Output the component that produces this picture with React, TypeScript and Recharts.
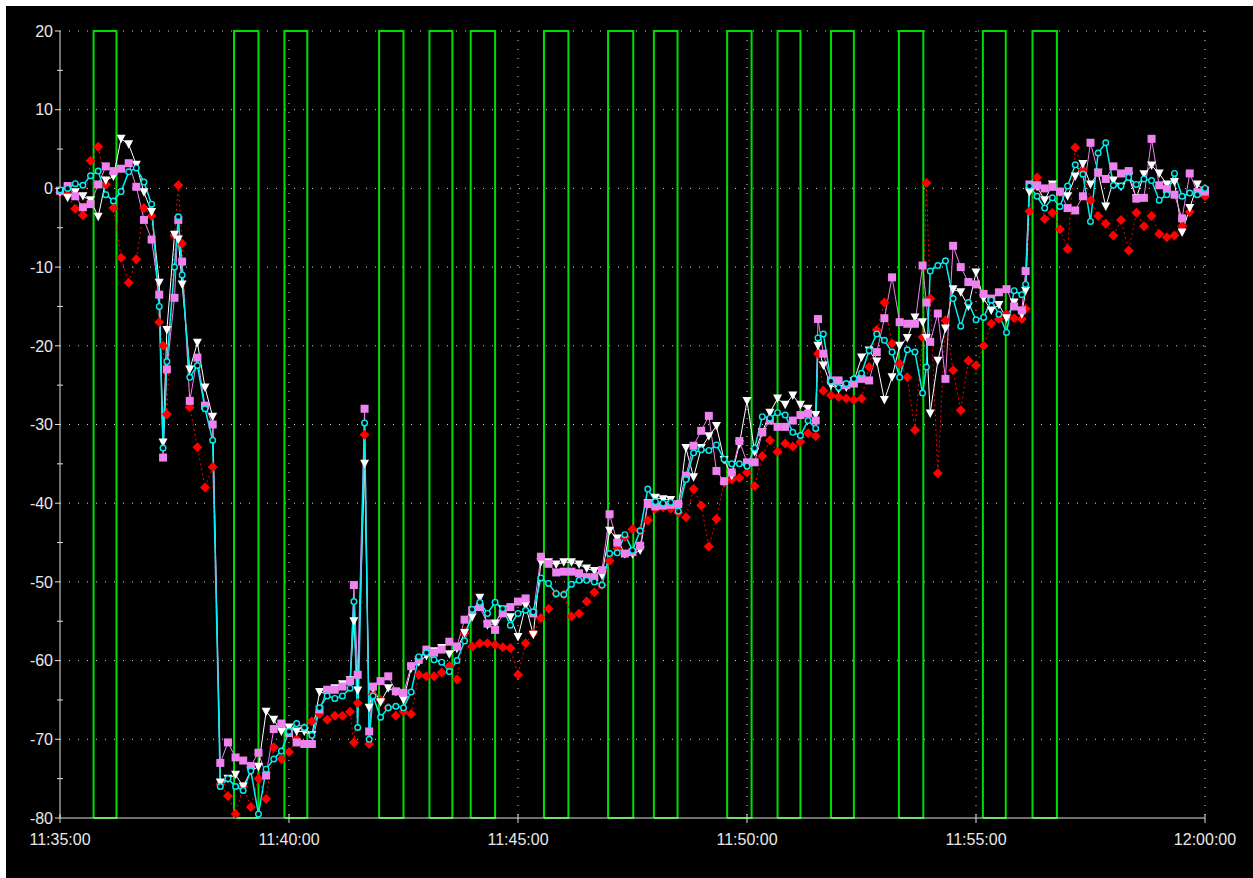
import React from 'react';
import { LineChart, Line, XAxis, YAxis, CartesianGrid } from 'recharts';

// seconds after 11:35:00
const TIMES = [
  0, 10, 20, 30, 40, 50, 60, 70, 80, 90,
  100, 110, 120, 130, 135, 140, 150, 155, 160, 170,
  180, 190, 200, 210, 220, 230, 240, 250, 260, 270,
  280, 290, 300, 310, 320, 330, 340, 350, 360, 370,
  380, 385, 390, 399, 405, 410, 420, 430, 440, 450,
  460, 470, 480, 490, 500, 510, 520, 530, 540, 550,
  560, 570, 580, 590, 600, 610, 620, 630, 640, 650,
  660, 670, 680, 690, 700, 710, 720, 730, 740, 750,
  760, 770, 780, 790, 800, 810, 820, 830, 840, 850,
  860, 870, 880, 890, 900, 910, 920, 930, 940, 950,
  960, 970, 980, 990, 993, 1000, 1010, 1020, 1030, 1040,
  1050, 1060, 1070, 1080, 1090, 1100, 1110, 1120, 1130, 1135,
  1140, 1150, 1160, 1170, 1180, 1190, 1200, 1210, 1220, 1230,
  1240, 1250, 1260, 1265, 1270, 1280, 1290, 1300, 1310, 1320,
  1330, 1340, 1350, 1360, 1370, 1380, 1390, 1400, 1410, 1420,
  1430, 1440, 1450, 1460, 1470, 1480, 1490, 1500,
];

const RED = [
  -0.5, -0.8, -2.6, -3.4, 3.5, 5.3, 0.5, -2.5, -8.8, -12,
  -9, -2.5, -3.5, -17, -20, -28.7, -6, 0.4, -7, -27.8,
  -32.9, -38, -35.4, -75.7, -77.2, -79.5, -76, -78.6, -75, -77.6,
  -71, -72.5, -71.6, -70, -68.5, -67.7, -66.8, -67.5, -67, -67,
  -66.5, -70.4, -65.4, -31.3, -70.6, -64.3, -65, -66, -67, -66.5,
  -66.8, -61.8, -62, -62, -61.5, -60.7, -62.4, -56.5, -58.2, -57.8,
  -57.8, -58, -58.3, -58.4, -61.8, -57.8, -56.5, -54.6, -53.4, -51.5,
  -51.6, -54.4, -54, -52.5, -51.3, -50.4, -47.3, -45.8, -44.3, -43.3,
  -43.5, -42.2, -40.7, -40.5, -40.7, -41.2, -41.8, -38.2, -40.3, -45.5,
  -42, -37.4, -37, -36.8, -36.1, -37.8, -34, -32, -33.5, -32.4,
  -32.8, -32.2, -31.1, -31.5, -21, -25.7, -26.3, -26.5, -26.7, -26.9,
  -26.7, -22.7, -18, -14.5, -19.7, -22.3, -24, -30.7, -18.9, 0.7,
  -14, -36.2, -16.8, -23.1, -28.2, -21.9, -22.5, -20, -17.2, -16.6,
  -16, -16.5, -16.6, -15.3, -2.9, 1.4, -3.9, -3.1, -5.2, -7.7,
  5.2, 2.3, -1.5, -3.5, -4.5, -6, -4, -7.9, -3.1, -4.8,
  -3.5, -5.8, -6.2, -6, -4.8, -3, -0.6, -1,
];

const VIOLET = [
  -0.3, 0.3, -1, -2.4, -2, 0.5, 2.8, 2.2, 2.5, 3.2,
  0.2, -4, -6.5, -13.5, -34.2, -23, -13.9, -4, -9.3, -27,
  -21.5, -27.6, -30, -73, -70.4, -72.3, -72.7, -73.4, -71.7, -74.6,
  -68.7, -68, -69.2, -70.4, -70.6, -70.6, -66.2, -63.7, -63.7, -63.3,
  -62.6, -50.4, -61.8, -28, -69, -63.3, -62.6, -62, -63.9, -64.1,
  -60.7, -59.9, -58.6, -59, -58.6, -57.6, -58.2, -54.8, -53.6, -53.2,
  -55.3, -56.1, -54, -53.2, -52.5, -52.1, -54, -46.8, -47.7, -48.8,
  -48.7, -48.7, -48.9, -49.4, -49.4, -48.5, -41.4, -45, -46.4, -46.2,
  -45.4, -40.1, -40.4, -40.3, -40.2, -40.1, -36.5, -32.7, -30.8, -28.9,
  -35.9, -37.2, -36.1, -32.1, -34.8, -34.8, -31, -29.5, -30.3, -30.3,
  -29.5, -28.8, -28.6, -29.5, -16.6, -21, -24.4, -24.4, -25, -24.8,
  -24.2, -24.4, -20.8, -16.5, -11.3, -17, -17.2, -17.2, -9.8, -14.5,
  -19.5, -15.9, -24.2, -7.3, -10, -11.9, -12.2, -13.4, -14, -13.2,
  -12.8, -15, -15.5, -10.5, 0.5, 0.4, 0, 0.2, -0.4, -2.5,
  -2.8, -1, 5.8, 2, 1.2, 2.8, 1.9, 2.2, -1.3, -1.2,
  6.3, 0.4, -0.1, -0.8, -3.8, 1.9, -0.5, -0.4,
];

const WHITE = [
  -0.5, -1.2, -0.5, -1, -1.5, -3.6, 1, 1.5, 6.3, 5.6,
  3, -0.5, -3, -12, -32.3, -18, -5.9, -6.5, -12.2, -23,
  -19.6, -25.3, -29, -75.5, -75, -74.5, -76, -74, -73.5, -66.5,
  -67.5, -69, -68.5, -69, -69, -69.5, -64, -64.2, -63.5, -63,
  -62.5, -55, -63.8, -35, -66, -63.5, -65.3, -63.5, -64, -65,
  -61, -60.2, -59.4, -58.8, -58.4, -59.2, -58.5, -56.5, -54.5, -52,
  -55.5, -55.3, -53.5, -54.5, -57, -53, -56.7, -47.5, -47.5, -47.8,
  -47.5, -47.5, -47.8, -48.3, -48.6, -49.2, -43.5, -44.5, -46.5, -46.5,
  -46, -40, -39.3, -39.5, -39.6, -40.5, -33, -36.7, -33, -31.5,
  -30.2, -34.5, -36.5, -32.5, -27, -33.5, -31, -28.5, -26.7, -27.5,
  -26.3, -27.5, -28, -28.8, -20, -22.5, -25, -25.5, -25.3, -24.5,
  -21.5, -20.6, -22, -26.9, -24, -20, -19, -16.4, -17, -19,
  -28.6, -21.9, -17.8, -12.8, -13.2, -15, -10.7, -14, -15.5, -14.8,
  -16.5, -14.5, -16, -13, -0.5, 0.2, -1.5, 0.5, -0.5, -1,
  1.5, 3.1, 0.5, 2, -2.3, 1, 0.2, 1.5, -1.25, 1.8,
  2.9, 1.9, 0.5, 0.8, -5.6, -2.5, 0.5, -0.3,
];

const CYAN = [
  -0.2, 0, 0.6, 0.4, 1.6, 2.2, -0.8, -1.6, -0.4, 2.1,
  2.6, 0.8, -2, -15, -33, -22, -10, -3.6, -11, -24,
  -22.5, -28, -32, -76, -75, -76, -76.5, -74, -79.5, -73.8,
  -72.5, -71.5, -69, -68, -68.5, -69.5, -66, -64.5, -64.8, -64.5,
  -63.5, -52.5, -68.5, -29.8, -70, -64.5, -67.2, -66, -65.8, -66,
  -64, -59.5, -59, -59.9, -60.2, -61.4, -60, -57.5, -53.5, -52.6,
  -54, -52.6, -53.4, -55.5, -54, -53.6, -53.8, -49.5, -50.2, -51.5,
  -51.6, -50.3, -49.8, -49.8, -50, -50.4, -46.4, -46.3, -44, -46,
  -43.5, -38.2, -39.8, -40, -39.9, -41, -37, -33.6, -33.2, -33.3,
  -32.6, -34.4, -35, -35, -35.3, -33, -29, -29.2, -28.5, -28.8,
  -31, -31.4, -29.5, -30.5, -19, -18.5, -24.5, -25.3, -24.8, -24.2,
  -23.5, -20.6, -18.5, -19.3, -20.8, -24, -20.5, -20.8, -26, -22.7,
  -10.5, -9.8, -9.2, -14, -17.5, -14.5, -16.7, -16.4, -14.2, -16,
  -18.3, -13, -13.5, -12.2, 0.3, -1, -2.5, -1.2, -2.3, 0.3,
  3, 1.8, -4.2, 4.5, 5.8, 0.4, 0.3, 1.4, 0.5, 1.2,
  1, -1.5, -0.8, 1.9, -1, -0.6, -0.8, 0,
];

// green gate signal: on-intervals (seconds)
const PULSE_START = [44, 228, 294, 418, 484, 538, 634, 718, 778, 874, 940, 1010, 1099, 1209, 1274];
const PULSE_END = [74, 260, 324, 450, 514, 570, 666, 751, 809, 906, 970, 1040, 1131, 1239, 1306];
const LOW = -80;
const HIGH = 20;

const Y_TICKS = [-80, -75, -70, -65, -60, -55, -50, -45, -40, -35, -30, -25, -20, -15, -10, -5, 0, 5, 10, 15, 20];
const H_GRID = [-70, -60, -50, -40, -30, -20, -10, 0, 10, 20];
const X_TICKS = [0, 300, 600, 900, 1200, 1500];
const X_LABELS = ['11:35:00', '11:40:00', '11:45:00', '11:50:00', '11:55:00', '12:00:00'];

const AXIS = '#e0e0e0';
const TEXT = '#e8e8e8';
const FONT = '"Liberation Sans", Arial, sans-serif';

const rows = TIMES.map((t, i) => ({
  t,
  red: RED[i],
  violet: VIOLET[i],
  white: WHITE[i],
  cyan: CYAN[i],
}));

const pulseRows: { t: number; g: number | null }[] = [];
PULSE_START.forEach((s, i) => {
  const e = PULSE_END[i];
  pulseRows.push({ t: s, g: LOW }, { t: s, g: HIGH }, { t: e, g: HIGH }, { t: e, g: LOW }, { t: s, g: LOW }, { t: s, g: null });
});

const Diamond = (p: any) => {
  const { cx, cy, index } = p;
  if (cx == null || cy == null) return <g key={`d${index}`} />;
  return (
    <polygon
      key={`d${index}`}
      points={`${cx},${cy - 5} ${cx + 5},${cy} ${cx},${cy + 5} ${cx - 5},${cy}`}
      fill="#ff0000"
    />
  );
};

const Square = (p: any) => {
  const { cx, cy, index } = p;
  if (cx == null || cy == null) return <g key={`s${index}`} />;
  return <rect key={`s${index}`} x={cx - 4} y={cy - 4} width={8} height={8} fill="#ee82ee" />;
};

const Triangle = (p: any) => {
  const { cx, cy, index } = p;
  if (cx == null || cy == null) return <g key={`t${index}`} />;
  return (
    <polygon
      key={`t${index}`}
      points={`${cx - 4.5},${cy - 4} ${cx + 4.5},${cy - 4} ${cx},${cy + 4.5}`}
      fill="#ffffff"
    />
  );
};

const Circle = (p: any) => {
  const { cx, cy, index } = p;
  if (cx == null || cy == null) return <g key={`c${index}`} />;
  return <circle key={`c${index}`} cx={cx} cy={cy} r={2.8} fill="#000" stroke="#00f0f0" strokeWidth={1.4} />;
};

const YTick = (p: any) => {
  const v = p.payload.value;
  const ax = p.x + 7;
  const major = v % 10 === 0;
  return (
    <g>
      <line x1={major ? ax - 5 : ax - 3} x2={major ? ax : ax + 3} y1={p.y} y2={p.y} stroke={AXIS} />
      {major && (
        <text x={ax - 7} y={p.y} dy="0.36em" textAnchor="end" fill={TEXT} fontSize={16} fontFamily={FONT}>
          {v}
        </text>
      )}
    </g>
  );
};

const XTick = (p: any) => {
  const i = X_TICKS.indexOf(p.payload.value);
  return (
    <g>
      <line x1={p.x} x2={p.x} y1={p.y - 9} y2={p.y} stroke={AXIS} />
      <text x={p.x} y={p.y + 22} textAnchor="middle" fill={TEXT} fontSize={16} fontFamily={FONT}>
        {X_LABELS[i]}
      </text>
    </g>
  );
};

export default function App() {
  return (
    <div style={{ position: 'absolute', left: 0, top: 0, width: 1253, height: 878, background: '#fff' }}>
      <div style={{ position: 'absolute', left: 6, top: 6, width: 1247, height: 872, background: '#000' }}>
        <LineChart width={1247} height={872} data={rows} margin={{ top: 25, right: 48, bottom: 20, left: 0 }}>
          <CartesianGrid
            stroke="#d8d8d8"
            strokeDasharray="1 8"
            horizontalValues={H_GRID}
            verticalValues={X_TICKS.slice(1)}
          />
          <XAxis
            dataKey="t"
            type="number"
            domain={[0, 1500]}
            ticks={X_TICKS}
            interval={0}
            height={40}
            tickSize={5}
            tickMargin={0}
            tickLine={false}
            stroke={AXIS}
            tick={<XTick />}
          />
          <YAxis
            type="number"
            domain={[LOW, HIGH]}
            ticks={Y_TICKS}
            interval={0}
            width={54}
            tickSize={5}
            tickMargin={2}
            tickLine={false}
            stroke={AXIS}
            tick={<YTick />}
          />
          <Line
            data={pulseRows}
            dataKey="g"
            type="linear"
            stroke="#00dd00"
            strokeWidth={2}
            dot={false}
            activeDot={false}
            connectNulls={false}
            isAnimationActive={false}
          />
          <Line
            dataKey="red"
            type="linear"
            stroke="#ff0000"
            strokeWidth={1}
            strokeDasharray="2 3"
            dot={Diamond}
            activeDot={false}
            isAnimationActive={false}
          />
          <Line
            dataKey="white"
            type="linear"
            stroke="#ffffff"
            strokeWidth={1}
            dot={Triangle}
            activeDot={false}
            isAnimationActive={false}
          />
          <Line
            dataKey="violet"
            type="linear"
            stroke="#ee82ee"
            strokeWidth={1}
            dot={Square}
            activeDot={false}
            isAnimationActive={false}
          />
          <Line
            dataKey="cyan"
            type="linear"
            stroke="#00f0f0"
            strokeWidth={1.5}
            dot={Circle}
            activeDot={false}
            isAnimationActive={false}
          />
        </LineChart>
      </div>
    </div>
  );
}
